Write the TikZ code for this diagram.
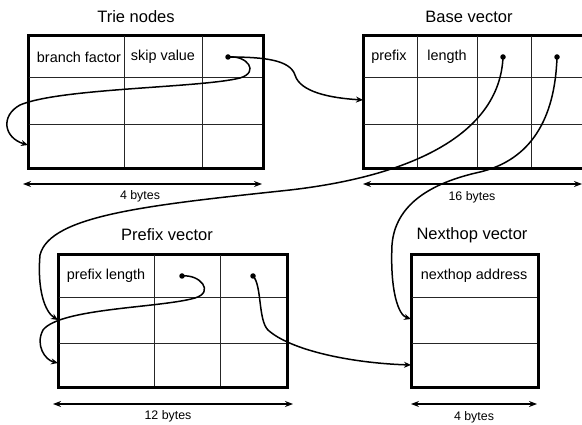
\documentclass[tikz,border=0pt]{standalone}
\usepackage{fontspec}
\setmainfont{Liberation Sans}
\usetikzlibrary{arrows.meta}
\tikzset{
  frame/.style={draw, line width=2pt, inner sep=0pt, anchor=north west},
  grid/.style={line width=0.8pt, black!85},
  title/.style={font=\fontsize{16.5}{19}\selectfont, inner sep=0pt},
  cell/.style={font=\fontsize{14.4}{17}\selectfont, inner sep=0pt},
  size/.style={font=\fontsize{12.4}{14}\selectfont, inner sep=0pt},
  span/.style={line width=2pt, {Stealth[length=8pt,width=6pt]}-{Stealth[length=8pt,width=6pt]}},
  link/.style={line width=1.5pt, -{Stealth[length=7pt,width=6pt]}},
  pin/.style={circle, fill, inner sep=0pt, minimum size=5.5pt},
}
\begin{document}
\begin{tikzpicture}[x=1pt, y=-1pt]
\useasboundingbox (0,0) rectangle (582,425);
\clip (0,0) rectangle (582,425);

% ---- Trie nodes ----
\node[title] (ttitle) at (136,17) {Trie nodes};
\node[frame, minimum width=234pt, minimum height=132pt] (trie) at (28,35) {};
\draw[grid] (28,77) -- (262,77) (28,124) -- (262,124)
            (124,35) -- (124,167) (202,35) -- (202,167);
\draw[line width=2pt] (trie.north west) rectangle (trie.south east);
\node[cell] (bf) at (79,57) {branch factor};
\node[cell] (sv) at (163,57) {skip value};
\coordinate (tl) at (23,184); \coordinate (tr) at (262,184);
\draw[span] (tl) -- (tr);
\node[size] (tsz) at (140,196) {4 bytes};

% ---- Base vector ----
\node[title] (btitle) at (469,17) {Base vector};
\node[frame, minimum width=230pt, minimum height=132pt] (base) at (363,35) {};
\draw[grid] (363,77) -- (593,77) (363,124) -- (593,124)
            (417,35) -- (417,167) (477,35) -- (477,167) (531,35) -- (531,167);
\draw[line width=2pt] (base.north west) rectangle (base.south east);
\node[cell] (pf) at (389,57) {prefix};
\node[cell] (ln) at (447,57) {length};
\coordinate (bl) at (363,184); \coordinate (br) at (582,184);
\draw[span] (bl) -- (br);
\node[size] (bsz) at (472,197) {16 bytes};

% ---- Prefix vector ----
\node[title] (ptitle) at (167,235) {Prefix vector};
\node[frame, minimum width=228pt, minimum height=132pt] (pre) at (58,254) {};
\draw[grid] (58,297) -- (286,297) (58,343) -- (286,343)
            (154,254) -- (154,386) (220,254) -- (220,386);
\draw[line width=2pt] (pre.north west) rectangle (pre.south east);
\node[cell] (pl) at (106,276) {prefix length};
\coordinate (pll) at (53,404); \coordinate (plr) at (293,404);
\draw[span] (pll) -- (plr);
\node[size] (psz) at (168,416) {12 bytes};

% ---- Nexthop vector ----
\node[title] (ntitle) at (472,235) {Nexthop vector};
\node[frame, minimum width=126pt, minimum height=132pt] (nh) at (411,254) {};
\draw[grid] (411,297) -- (537,297) (411,343) -- (537,343);
\draw[line width=2pt] (nh.north west) rectangle (nh.south east);
\node[cell] (na) at (474,276) {nexthop address};
\coordinate (nl) at (411,404); \coordinate (nr) at (537,404);
\draw[span] (nl) -- (nr);
\node[size] (nsz) at (474,417) {4 bytes};

% ---- pointer origins ----
\node[pin] (tp)  at (228,57) {};
\node[pin] (bp1) at (503,57) {};
\node[pin] (bp2) at (557,57) {};
\node[pin] (pp1) at (182,276) {};
\node[pin] (pp2) at (253,276) {};

% ---- pointer targets ----
\coordinate (trieIn)  at (28,145);
\coordinate (baseIn)  at (363,100);
\coordinate (preIn1)  at (58,320);
\coordinate (preIn2)  at (58,363);
\coordinate (nhIn1)   at (411,319);
\coordinate (nhIn2)   at (411,365);

% ---- pointers ----
\draw[link] (tp.center) .. controls (265,57) and (290,60) .. (295,75)
            .. controls (300,92) and (330,98) .. (baseIn);
\draw[link] (tp.center) .. controls (247,55) and (260,72) .. (240,78)
            .. controls (200,88) and (60,88) .. (20,105)
            .. controls (0,116) and (4,138) .. (trieIn);
\draw[link] (bp1.center) .. controls (500,130) and (420,175) .. (290,190)
            .. controls (150,205) and (50,215) .. (40,255)
            .. controls (37,290) and (45,312) .. (preIn1);
\draw[link] (bp2.center) .. controls (555,120) and (530,160) .. (480,172)
            .. controls (430,183) and (395,205) .. (392,245)
            .. controls (390,290) and (398,315) .. (nhIn1);
\draw[link] (pp1.center) .. controls (200,274) and (215,292) .. (195,298)
            .. controls (160,308) and (60,308) .. (43,330)
            .. controls (35,345) and (45,360) .. (preIn2);
\draw[link] (pp2.center) .. controls (262,285) and (258,320) .. (268,330)
            .. controls (290,350) and (350,363) .. (nhIn2);
\end{tikzpicture}
\end{document}
